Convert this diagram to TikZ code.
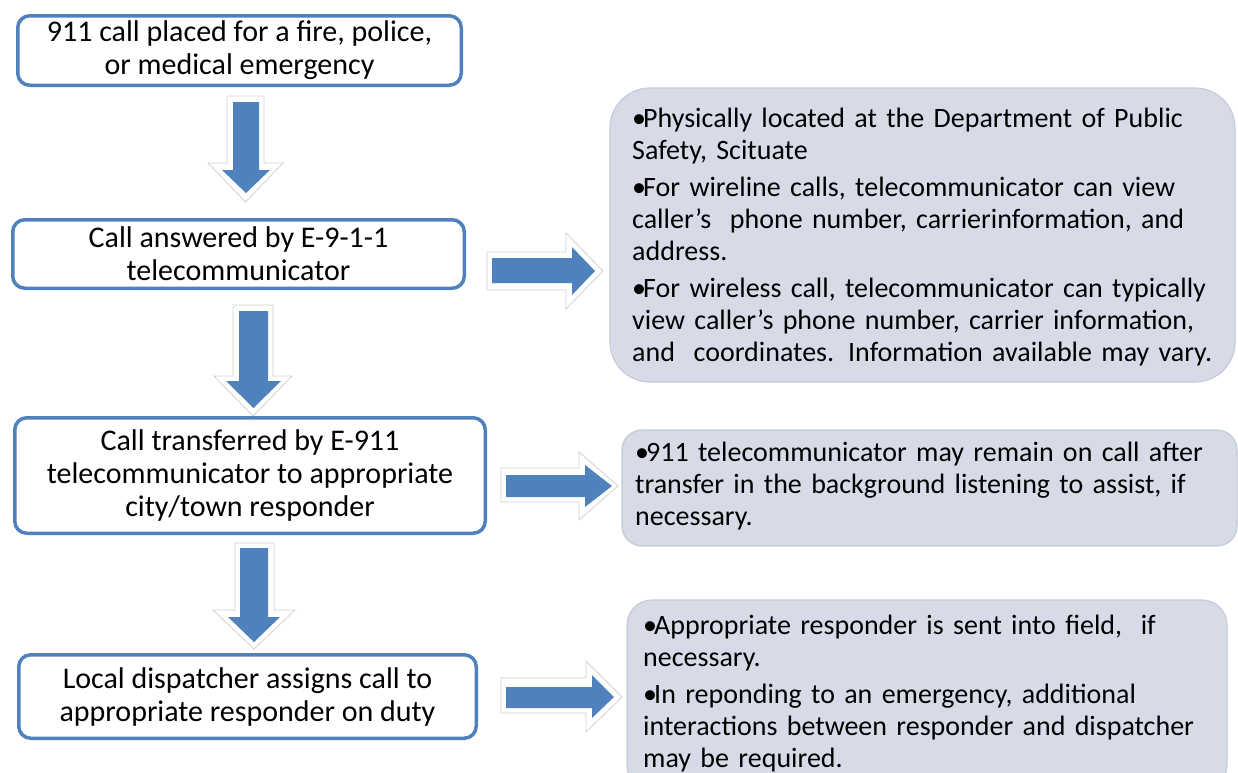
\documentclass[tikz,border=0pt]{standalone}
\usepackage{fontspec}
\setmainfont{Carlito}
\definecolor{obl}{HTML}{4F81BD}
\definecolor{cfill}{HTML}{D6DBE7}
\definecolor{cdraw}{HTML}{C4CBDA}
\newcommand{\bul}[1]{\hangindent=11pt\hangafter=1\noindent\makebox[11pt][l]{\textbullet}#1\par}
\begin{document}
\begin{tikzpicture}[x=1pt,y=-1pt,
  stepbox/.style={draw=obl, line width=3.5pt, rounded corners=12pt, fill=white,
    align=center, font=\fontsize{30}{33}\selectfont, inner sep=0pt},
  note/.style={draw=cdraw, line width=1.2pt, fill=cfill, inner sep=0pt},
  notetext/.style={anchor=west, inner sep=0pt, text width=600pt, align=left,
    font=\fontsize{28}{32}\selectfont},
  blkout/.style={fill=white, draw=black!18, line width=0.8pt, line join=miter},
  blk/.style={fill=obl}]
\useasboundingbox (0,0) rectangle (1238,772);
\clip (0,0) rectangle (1238,772);

% step boxes
\node[stepbox, minimum width=443.5pt, minimum height=69.5pt] (s1) at (239.5,50.5)
  {911 call placed for a fire, police,\\or medical emergency};
\node[stepbox, minimum width=451.5pt, minimum height=68.5pt] (s2) at (238.5,254)
  {Call answered by E-9-1-1\\telecommunicator};
\node[stepbox, minimum width=470.5pt, minimum height=115.5pt] (s3) at (250,475.5)
  {Call transferred by E-911\\telecommunicator to appropriate\\city/town responder};
\node[stepbox, minimum width=457.5pt, minimum height=83.5pt] (s4) at (247.5,696.5)
  {Local dispatcher assigns call to\\appropriate responder on duty};

% callouts
\node[note, rounded corners=40pt, minimum width=625pt, minimum height=294pt] (c1) at (922.5,235) {};
\node[note, rounded corners=20pt, minimum width=615pt, minimum height=116pt] (c2) at (929.5,488) {};
\node[note, rounded corners=25pt, minimum width=600pt, minimum height=190pt] (c3) at (927,695) {};

\node[notetext] (t1) at (632,237) {\setlength{\parskip}{5pt}%
  \bul{Physically located at the Department of Public\\Safety, Scituate}
  \bul{For wireline calls, telecommunicator can view\\caller's\ \ phone number, carrierinformation, and\\address.}
  \bul{For wireless call, telecommunicator can typically\\view caller's phone number, carrier information,\\and\ \ coordinates. Information available may vary.}};
\node[notetext] (t2) at (635,486) {%
  \bul{911 telecommunicator may remain on call after\\transfer in the background listening to assist, if\\necessary.}};
\node[notetext] (t3) at (643,694) {\setlength{\parskip}{5pt}%
  \bul{Appropriate responder is sent into field,\ \ if\\necessary.}
  \bul{In reponding to an emergency, additional\\interactions between responder and dispatcher\\may be required.}};

% down arrows
\draw[blkout] (227,96) -- (264,96) -- (264,163) -- (283,163) -- (245.5,202) -- (208,163) -- (227,163) -- cycle;
\fill[blk] (233,102) -- (259,102) -- (259,170) -- (270,170) -- (246,193) -- (222,170) -- (233,170) -- cycle;

\draw[blkout] (233,305) -- (273,305) -- (273,376) -- (292,376) -- (253,416) -- (214,376) -- (233,376) -- cycle;
\fill[blk] (239,311) -- (268,311) -- (268,381) -- (281,381) -- (253.5,408) -- (226,381) -- (239,381) -- cycle;

\draw[blkout] (235,543) -- (274,543) -- (274,610) -- (295,610) -- (254,649) -- (213,610) -- (235,610) -- cycle;
\fill[blk] (240,548) -- (268,548) -- (268,617) -- (280,617) -- (254,642) -- (228,617) -- (240,617) -- cycle;

% right arrows
\draw[blkout] (487,252) -- (566,252) -- (566,233) -- (603,271) -- (566,309) -- (566,290) -- (487,290) -- cycle;
\fill[blk] (492,258) -- (572,258) -- (572,247) -- (595,271) -- (572,295) -- (572,283) -- (492,283) -- cycle;

\draw[blkout] (501,468) -- (579,468) -- (579,452) -- (618,486) -- (579,520) -- (579,502) -- (501,502) -- cycle;
\fill[blk] (506,475) -- (585,475) -- (585,465) -- (612,486) -- (585,507) -- (585,497) -- (506,497) -- cycle;

\draw[blkout] (501,678) -- (586,678) -- (586,661) -- (622,697) -- (586,732) -- (586,713) -- (501,713) -- cycle;
\fill[blk] (506,687) -- (592,687) -- (592,675) -- (614,697) -- (592,718) -- (592,708) -- (506,708) -- cycle;
\end{tikzpicture}
\end{document}
